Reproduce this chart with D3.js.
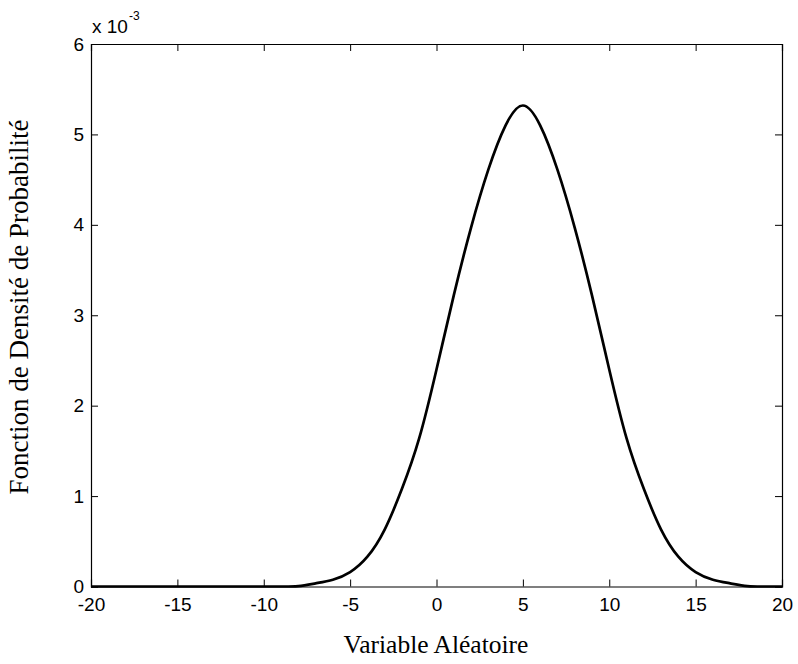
<!DOCTYPE html>
<html>
<head>
<meta charset="utf-8">
<script src="https://cdn.jsdelivr.net/npm/d3@7"></script>
<style>
  html, body { margin: 0; padding: 0; background: #fff; }
  svg { display: block; }
</style>
</head>
<body>
<script>
// Data (density in units of 1e-3)
const xValues = [-20,-19,-18,-17,-16,-15,-14,-13,-12,-11,-10,-9,-8,-7,-6,-5,-4,-3,-2,-1,0,1,2,3,4,5,6,7,8,9,10,11,12,13,14,15,16,17,18,19,20];
const densityValues = [0,0,0,0,0,0,0,0,0,0,0,0,0.005,0.035,0.075,0.16,0.33,0.63,1.08,1.64,2.40,3.22,3.97,4.61,5.10,5.32,5.10,4.61,3.97,3.22,2.40,1.64,1.08,0.63,0.33,0.16,0.075,0.035,0.005,0,0];
const xTicks = [-20,-15,-10,-5,0,5,10,15,20];
const yTicks = [0,1,2,3,4,5,6];
const xLabel = "Variable Aléatoire";
const yLabel = "Fonction de Densité de Probabilité";

(function () {
const W = 798, H = 664;
const mLeft = 91, mRight = 782, mTop = 44, mBottom = 586.5;

const svg = d3.select("body").append("svg").attr("width", W).attr("height", H);

const x = d3.scaleLinear().domain([-20, 20]).range([mLeft, mRight]);
const y = d3.scaleLinear().domain([0, 6]).range([mBottom, mTop]);

const tickLen = 7;
const tickFont = "'Liberation Sans', Arial, sans-serif";
const fmt = d => String(d);

// Curve
const data = xValues.map((v, i) => ({x: v, y: densityValues[i]}));
const line = d3.line().x(d => x(d.x)).y(d => y(d.y)).curve(d3.curveNatural);
svg.append("path").datum(data)
  .attr("d", line)
  .attr("fill", "none")
  .attr("stroke", "#000")
  .attr("stroke-width", 2.7)
  .attr("stroke-linejoin", "round");

// Axes (ticks inward, box)
const gB = svg.append("g").attr("transform", `translate(0,${mBottom})`)
  .call(d3.axisBottom(x).tickValues(xTicks).tickSize(-tickLen).tickPadding(11).tickFormat(fmt));
const gT = svg.append("g").attr("transform", `translate(0,${mTop})`)
  .call(d3.axisTop(x).tickValues(xTicks).tickSize(-tickLen).tickFormat(""));
const gL = svg.append("g").attr("transform", `translate(${mLeft},0)`)
  .call(d3.axisLeft(y).tickValues(yTicks).tickSize(-tickLen).tickPadding(7).tickFormat(fmt));
const gR = svg.append("g").attr("transform", `translate(${mRight},0)`)
  .call(d3.axisRight(y).tickValues(yTicks).tickSize(-tickLen).tickFormat(""));

[gB, gT, gL, gR].forEach(g => {
  g.selectAll("path.domain").attr("stroke", "#000").attr("stroke-width", 1.2);
  g.selectAll(".tick line").attr("stroke", "#000").attr("stroke-width", 1);
  g.selectAll(".tick text").attr("fill", "#000")
    .style("font-family", tickFont).style("font-size", "19px");
});
gB.selectAll(".tick text").attr("dy", "0.71em");

// Exponent label
const expT = svg.append("text").attr("x", mLeft + 1).attr("y", 33)
  .style("font-family", tickFont).style("font-size", "19px").attr("fill", "#000");
expT.append("tspan").text("x 10");
expT.append("tspan").attr("dy", -13).attr("dx", 1).style("font-size", "12px").text("-3");

// Axis labels
const serif = "'Liberation Serif', 'Times New Roman', serif";
svg.append("text").attr("x", 436).attr("y", 653)
  .attr("text-anchor", "middle")
  .style("font-family", serif).style("font-size", "25.5px")
  .attr("fill", "#000").text(xLabel);

svg.append("text")
  .attr("transform", `translate(28,307) rotate(-90)`)
  .attr("text-anchor", "middle")
  .style("font-family", serif).style("font-size", "27px")
  .attr("fill", "#000").text(yLabel);
})();
</script>
</body>
</html>
